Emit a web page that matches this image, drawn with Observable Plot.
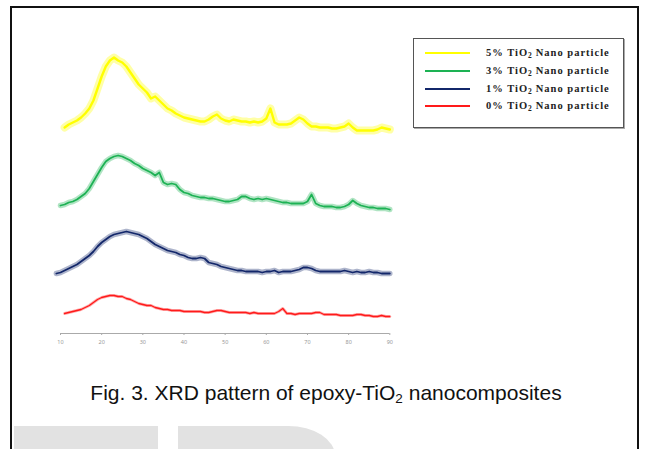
<!DOCTYPE html>
<html><head><meta charset="utf-8">
<script src="https://cdn.jsdelivr.net/npm/d3@7"></script>
<script src="https://cdn.jsdelivr.net/npm/@observablehq/plot@0.6"></script>
<style>
body{margin:0;width:645px;height:449px;overflow:hidden;background:#fff;position:relative;font-family:"Liberation Sans",Arial,sans-serif;}
.wm{position:absolute;background:#e2e2e2;}
#frame{position:absolute;left:10px;top:6px;width:625px;height:470px;border:2px solid #111;border-bottom:none;}
#chart{position:absolute;left:0;top:0;}
#legend{position:absolute;left:413px;top:38px;width:209px;height:88px;border:1.5px solid #555;box-shadow:1px 1px 0 #aaa;background:#fff;}
.sw{position:absolute;left:11px;width:45px;height:2px;}
.lab{position:absolute;left:72px;font:bold 10.5px "Liberation Serif","Times New Roman",serif;letter-spacing:1px;white-space:nowrap;color:#222;line-height:12px;}
.lab sub{font-size:7.5px;vertical-align:-2px;line-height:0;letter-spacing:0.3px;}
#caption{position:absolute;left:0;width:652px;top:381px;text-align:center;font-size:21px;color:#111;}
#caption sub{font-size:13.5px;vertical-align:-3px;line-height:0;}
</style>
</head><body>
<div class="wm" style="left:14px;top:426px;width:144px;height:30px;"></div>
<div class="wm" style="left:178px;top:426px;width:157px;height:30px;border-top-right-radius:70px 45px;"></div>
<div id="frame"></div>
<div id="chart"></div>
<div id="legend"></div>
<div id="caption">Fig. 3. XRD pattern of epoxy-TiO<sub>2</sub> nanocomposites</div>
<script>
// 2θ (degrees)
const angles = [9,10,11,12,13,14,15,16,17,18,19,20,21,22,23,24,25,26,27,28,29,30,31,32,33,34,35,36,37,38,39,40,41,42,43,44,45,46,47,48,49,50,51,52,53,54,55,56,57,58,59,60,61,62,63,64,65,66,67,68,69,70,71,72,73,74,75,76,77,78,79,80,81,82,83,84,85,86,87,88,89,90];
const tickLabels = [10,20,30,40,50,60,70,80,90];
const seriesNames = ["5% TiO", "3% TiO", "1% TiO", "0% TiO"];
const seriesColors = ["#ffff00", "#1db254", "#13276a", "#ff1a1a"];
// intensities (a.u., stacked traces), aligned with angles; null = no data
const tio5 = [null,null,213,216,218,220,223,227,232,240,252,264,274,280,283,280,278,274,268,262,256,252,248,242,244,240,236,232,230,227,225,223,222,221,220,219,219,221,224,226,222,220,219,221,220,219,219,218,219,218,219,222,232,218,216,216,216,217,220,223,221,217,214,214,213,213,213,212,212,213,214,217,213,210,210,210,210,210,211,213,212,211];
const tio3 = [null,135,136,138,139,141,144,147,152,159,166,173,179,182,184,185,184,182,180,177,175,172,170,168,165,168,158,156,157,156,151,148,147,145,144,143,143,142,142,141,140,139,139,140,141,144,144,142,141,142,141,142,141,140,139,138,138,137,137,137,137,139,146,137,135,134,134,134,133,133,134,136,140,137,135,134,133,133,132,132,132,131];
const tio1 = [67,68,70,72,74,76,79,82,85,89,94,98,101,104,106,107,108,109,108,107,106,104,102,99,96,94,92,90,89,88,86,85,83,82,82,83,82,78,77,76,74,73,72,71,70,70,69,69,69,69,68,69,69,70,68,69,69,69,70,71,73,73,72,70,69,69,69,69,69,69,70,69,68,69,68,68,69,68,68,67,67,67];
const tio0 = [null,null,27,28,29,30,31,33,35,38,41,43,44,45,45,44,44,42,41,39,37,36,35,35,33,32,31,31,30,30,30,29,29,29,29,29,28,28,29,30,30,29,28,28,28,28,28,27,28,27,27,27,27,27,29,32,27,27,26,27,27,27,27,28,28,26,26,26,26,25,25,25,25,26,26,25,25,24,24,25,24,24];

const all = [tio5, tio3, tio1, tio0];
const rows = [];
all.forEach((arr, s) => arr.forEach((v, i) => { if (v != null) rows.push({theta: angles[i], value: v, series: seriesNames[s]}); }));
const bandW = [8, 5.5, 5.5, 3];
const coreW = [2.4, 1.8, 1.8, 1.3];

const marks = [Plot.ruleY([7], {stroke: "#aaa", strokeWidth: 1})];
seriesNames.forEach((n, s) => {
  const d = rows.filter(r => r.series === n);
  marks.push(Plot.line(d, {x: "theta", y: "value", stroke: seriesColors[s], strokeWidth: bandW[s], strokeOpacity: 0.35}));
  marks.push(Plot.line(d, {x: "theta", y: "value", stroke: seriesColors[s], strokeWidth: coreW[s]}));
});
marks.push(Plot.axisX({ticks: tickLabels, tickSize: 2, tickPadding: 5, fontSize: 5.5, color: "#999", stroke: "#aaa", label: null}));

const chart = Plot.plot({
  width: 645, height: 360,
  marginLeft: 60, marginRight: 255.7, marginTop: 33, marginBottom: 27,
  x: {domain: [10, 90]},
  y: {domain: [7, 307], axis: null},
  style: {background: "transparent", overflow: "visible"},
  marks
});
document.getElementById("chart").appendChild(chart);

const leg = document.getElementById("legend");
const rowY = [14, 32, 49.5, 67];
seriesNames.forEach((n, s) => {
  const sw = document.createElement("div");
  sw.className = "sw"; sw.style.top = (rowY[s] - 1) + "px"; sw.style.background = seriesColors[s];
  leg.appendChild(sw);
  const t = document.createElement("div");
  t.className = "lab"; t.style.top = (rowY[s] - 6) + "px";
  t.innerHTML = n + "<sub>2</sub> Nano particle";
  leg.appendChild(t);
});
</script>
</body></html>
